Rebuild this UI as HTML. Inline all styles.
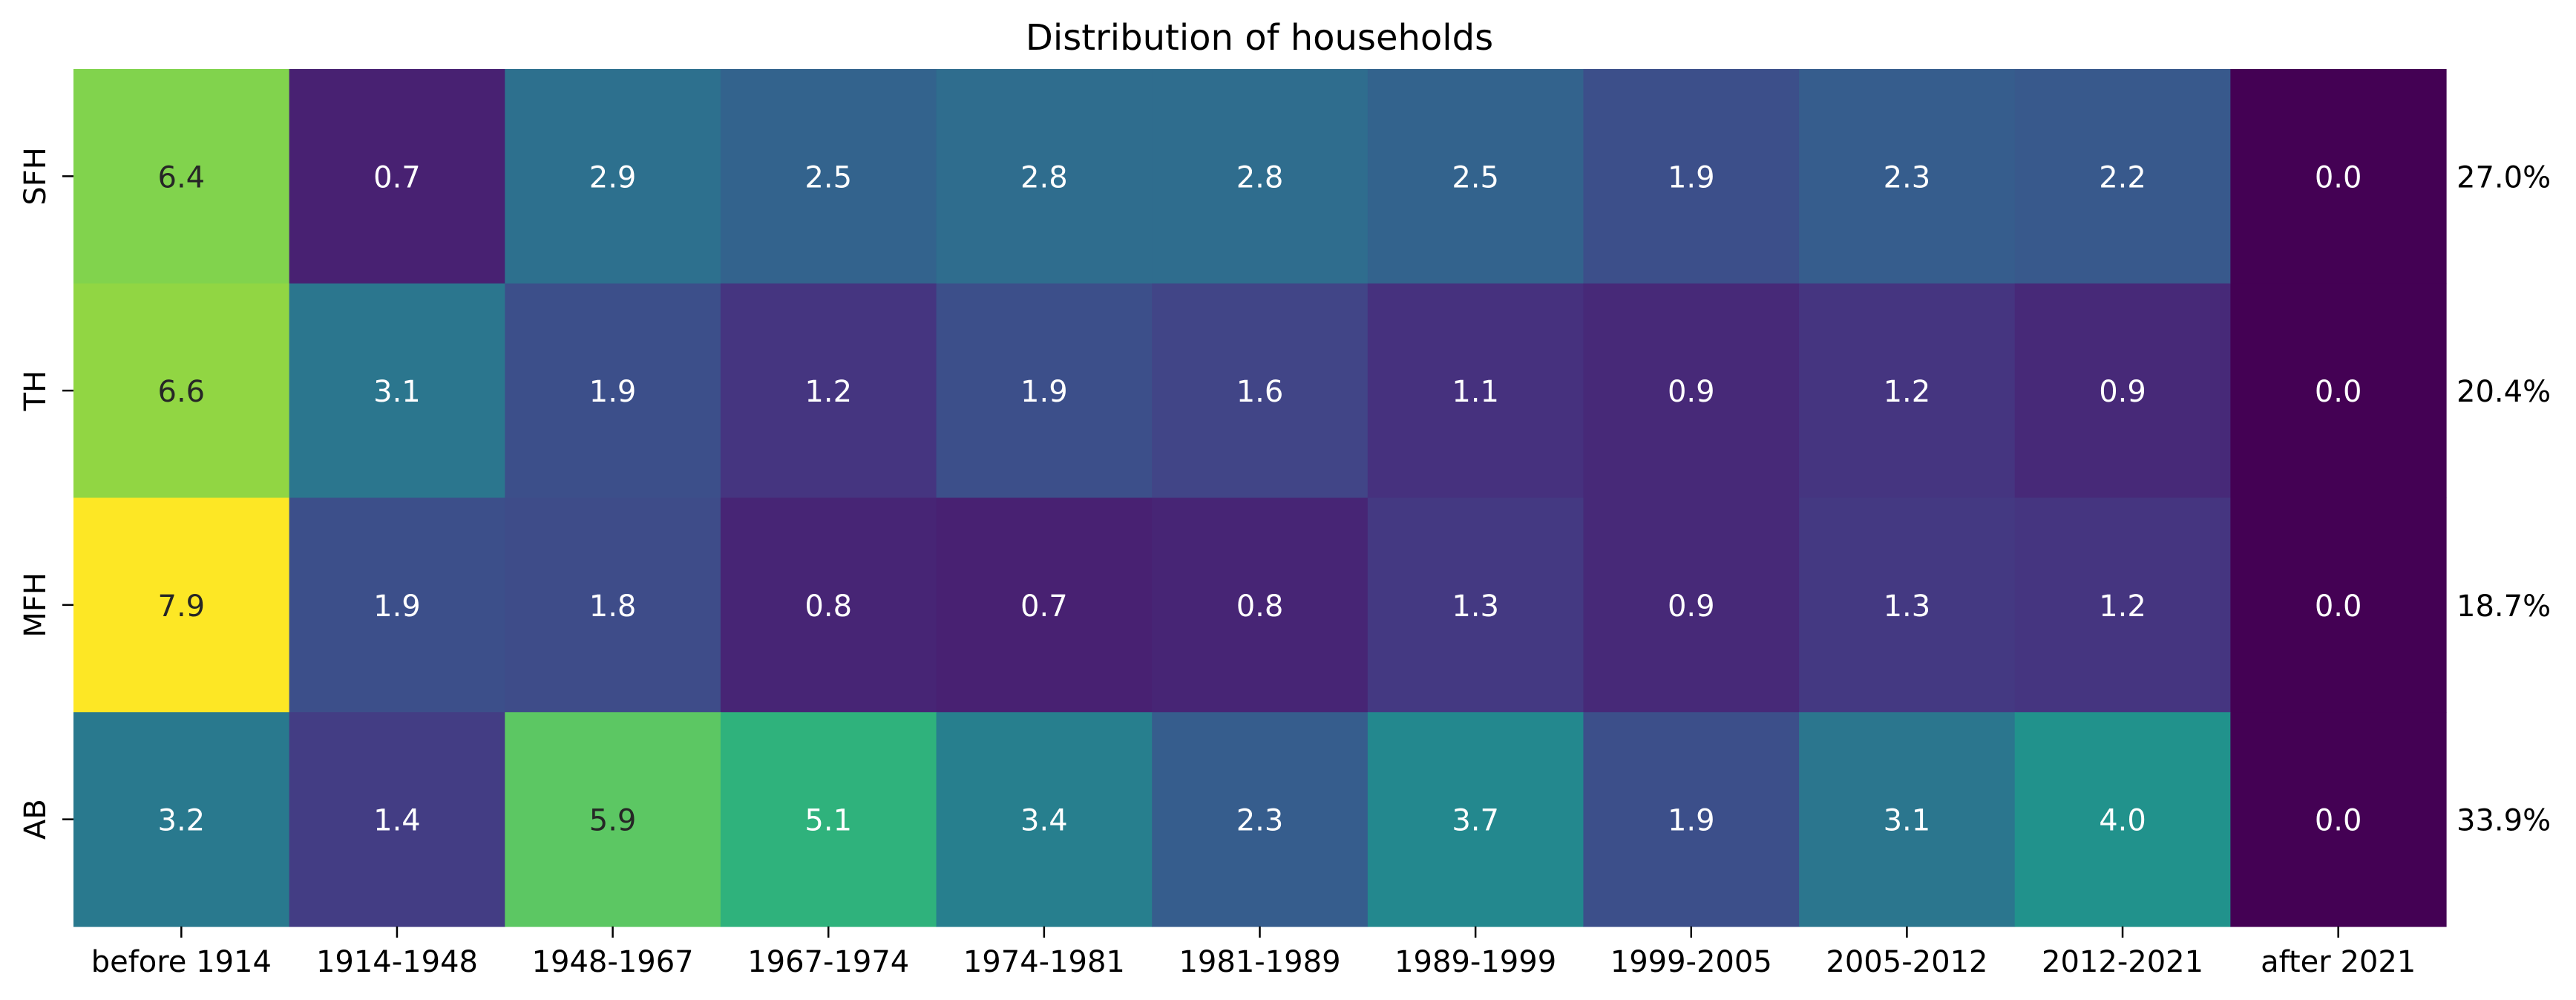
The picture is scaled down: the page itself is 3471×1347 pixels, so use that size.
<!DOCTYPE html>
<html><head><meta charset="utf-8"><style>
html,body{margin:0;padding:0;background:#fff;}
svg{display:block;font-family:"DejaVu Sans","Liberation Sans",sans-serif;}
</style></head><body>
<svg id="chart" width="3471" height="1347" viewBox="0 0 3471 1347" xmlns="http://www.w3.org/2000/svg">
<text x="1697" y="67" font-size="48" text-anchor="middle" fill="#000">Distribution of households</text>
<g id="cells"></g><g id="xaxis"></g><g id="yaxis"></g><g id="totals"></g>
</svg>
<script>
const columns = ["before 1914","1914-1948","1948-1967","1967-1974","1974-1981","1981-1989","1989-1999","1999-2005","2005-2012","2012-2021","after 2021"];
const rows = ["SFH","TH","MFH","AB"];
const sfhValues = [6.4,0.7,2.9,2.5,2.8,2.8,2.5,1.9,2.3,2.2,0.0];
const thValues = [6.6,3.1,1.9,1.2,1.9,1.6,1.1,0.9,1.2,0.9,0.0];
const mfhValues = [7.9,1.9,1.8,0.8,0.7,0.8,1.3,0.9,1.3,1.2,0.0];
const abValues = [3.2,1.4,5.9,5.1,3.4,2.3,3.7,1.9,3.1,4.0,0.0];
const rowTotals = ["27.0%","20.4%","18.7%","33.9%"];
const vmin = 0, vmax = 7.9;

const NS="http://www.w3.org/2000/svg";
const X0=99, X1=3296, Y0=93, Y1=1248;
const cw=(X1-X0)/columns.length, ch=(Y1-Y0)/rows.length;
function xPos(i){return X0+i*cw;}
function yPos(j){return Y0+j*ch;}
const stops=["#440154","#481a6c","#472f7d","#414487","#39568c","#31688e","#2a788e","#23888e","#1f988b","#22a884","#35b779","#54c568","#7ad151","#a5db36","#d2e21b","#fde725"];
function hex(h){return [1,3,5].map(k=>parseInt(h.substr(k,2),16));}
function viridis(v){
  let t=Math.max(0,Math.min(1,(v-vmin)/(vmax-vmin)))*(stops.length-1);
  let i=Math.min(Math.floor(t),stops.length-2), f=t-i;
  const a=hex(stops[i]), b=hex(stops[i+1]);
  return a.map((c,k)=>Math.round(c+(b[k]-c)*f));
}
function lum(rgb){const c=rgb.map(x=>{x/=255;return x<=0.03928?x/12.92:Math.pow((x+0.055)/1.055,2.4);});return 0.2126*c[0]+0.7152*c[1]+0.0722*c[2];}
const data=[sfhValues,thValues,mfhValues,abValues];
const gc=document.getElementById('cells');
data.forEach((row,j)=>{
  row.forEach((v,i)=>{
    const rgb=viridis(v);
    const r=document.createElementNS(NS,'rect');
    
    
    r.setAttribute('x',xPos(i));r.setAttribute('y',yPos(j));
    r.setAttribute('width',cw+0.6);r.setAttribute('height',ch+0.6);
    r.setAttribute('fill','rgb('+rgb.join(',')+')');
    gc.appendChild(r);
    const t=document.createElementNS(NS,'text');
    
    
    t.setAttribute('x',xPos(i)+cw/2);t.setAttribute('y',yPos(j)+ch/2+15);
    t.setAttribute('font-size','40');t.setAttribute('text-anchor','middle');
    t.setAttribute('fill',lum(rgb)>0.408?'#262626':'#ffffff');
    t.textContent=v.toFixed(1);
    gc.appendChild(t);
  });
});
const gx=document.getElementById('xaxis');
columns.forEach((c,i)=>{
  const cx=xPos(i)+cw/2;
  const l=document.createElementNS(NS,'line');
  
  
  l.setAttribute('x1',cx);l.setAttribute('x2',cx);l.setAttribute('y1',Y1);l.setAttribute('y2',Y1+15);
  l.setAttribute('stroke','#000');l.setAttribute('stroke-width','2.5');
  gx.appendChild(l);
  const t=document.createElementNS(NS,'text');
  
  
  t.setAttribute('x',cx);t.setAttribute('y',1309);
  t.setAttribute('font-size','40');t.setAttribute('text-anchor','middle');
  t.textContent=c;
  gx.appendChild(t);
});
const gy=document.getElementById('yaxis');
rows.forEach((r,j)=>{
  const cy=yPos(j)+ch/2;
  const l=document.createElementNS(NS,'line');
  
  
  l.setAttribute('x1',X0-15);l.setAttribute('x2',X0);l.setAttribute('y1',cy);l.setAttribute('y2',cy);
  l.setAttribute('stroke','#000');l.setAttribute('stroke-width','2.5');
  gy.appendChild(l);
  const t=document.createElementNS(NS,'text');
  
  
  t.setAttribute('transform','translate(61,'+cy+') rotate(-90)');
  t.setAttribute('font-size','40');t.setAttribute('text-anchor','middle');
  t.textContent=r;
  gy.appendChild(t);
  const p=document.createElementNS(NS,'text');
  
  
  p.setAttribute('x',3310);p.setAttribute('y',cy+15);
  p.setAttribute('font-size','40');
  p.textContent=rowTotals[j];
  document.getElementById('totals').appendChild(p);
});
</script>
</body></html>
